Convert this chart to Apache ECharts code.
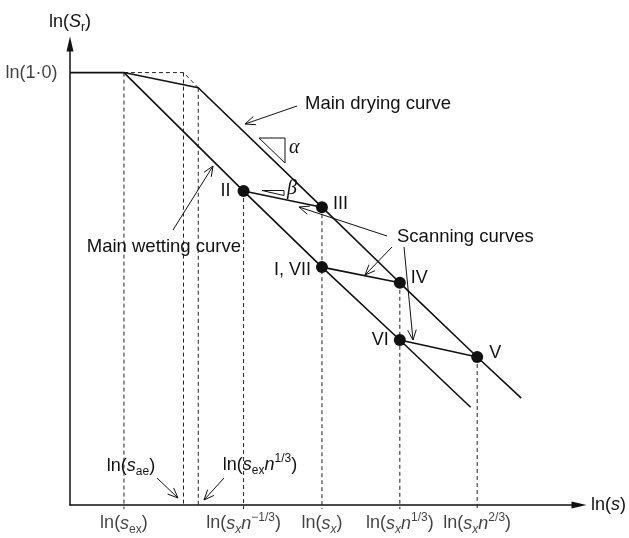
<!DOCTYPE html>
<html><head><meta charset="utf-8">
<script src="https://cdn.jsdelivr.net/npm/echarts@6/dist/echarts.min.js"></script>
<style>html,body{margin:0;padding:0;background:#fff}#c{width:629px;height:538px}</style>
</head><body><div id="c"></div>
<script>
// ---- schematic data (ln(s) on x, ln(Sr) on y, arbitrary units) ----
const plateau = [[0, 93.8], [10.6, 93.8]];
const mainDrying = [[10.6, 93.8], [25.2, 90.5], [49.5, 64.6], [64.8, 48.2], [80.0, 32.1], [88.65, 23.2]];
const mainWetting = [[10.6, 93.8], [34.1, 68.1], [49.5, 51.6], [64.8, 35.8], [78.7, 21.2]];
const guideTop = [[10.6, 93.8], [22.3, 93.8], [25.2, 90.5]];
const pointNames = ['II', 'III', 'I, VII', 'IV', 'VI', 'V'];
const pointX = [34.1, 49.5, 49.5, 64.8, 64.8, 80.0];
const pointY = [68.1, 64.6, 51.6, 48.2, 35.8, 32.1];
const scanningPairs = [['II', 'III'], ['I, VII', 'IV'], ['VI', 'V']];
// vertical guides: [x, top y]
const guideVerticals = [[10.6, 93.8], [22.3, 93.8], [25.2, 90.5], [34.1, 68.1], [49.5, 64.6], [64.8, 48.2], [80.0, 32.1]];
const guideBelowAxis = [true, false, false, true, true, true, true];
const xTickValues = [10.6, 34.1, 49.5, 64.8, 80.0];
const xTickLabels = [
  '{t|ln(}{i|s}{s|ex}{t|)}',
  '{t|ln(}{i|s}{si|x}{i|n}{p|−1/3}{t|)}',
  '{t|ln(}{i|s}{si|x}{t|)}',
  '{t|ln(}{i|s}{si|x}{i|n}{p|1/3}{t|)}',
  '{t|ln(}{i|s}{si|x}{i|n}{p|2/3}{t|)}'
];
const yTickValues = [93.8];
const yTickLabels = ['{t|ln(1·0)}'];
const xAxisName = '{t|ln(}{i|s}{t|)}';
const yAxisName = '{t|ln(}{i|S}{s|r}{t|)}';

// ---- styles ----
const C = '#111111';
const F = '"Liberation Sans", Arial, sans-serif';
const R = {
  t: {fontFamily: F, fontSize: 18, color: C, lineHeight: 24},
  i: {fontFamily: F, fontSize: 18, fontStyle: 'italic', color: C, lineHeight: 24},
  s: {fontFamily: F, fontSize: 12, color: C, verticalAlign: 'bottom', lineHeight: 12},
  si: {fontFamily: F, fontSize: 12, fontStyle: 'italic', color: C, verticalAlign: 'bottom', lineHeight: 12},
  p: {fontFamily: F, fontSize: 12, color: C, verticalAlign: 'top', lineHeight: 12}
};
const pointLabelPlacement = [
  {position: 'left', distance: 7, offset: [0, 0]},
  {position: 'right', distance: 5, offset: [0, -3]},
  {position: 'left', distance: 5, offset: [0, 3]},
  {position: 'right', distance: 5, offset: [0, -5]},
  {position: 'left', distance: 5, offset: [0, 0]},
  {position: 'right', distance: 6, offset: [0, -4]}
];

const chart = echarts.init(document.getElementById('c'), null, {renderer: 'canvas'});

const series = [];
const dashStyle = {color: '#222', width: 1, type: [4, 3]};
// dashed guides
series.push({type: 'line', data: guideTop, symbol: 'none', lineStyle: dashStyle, z: 1, silent: true, clip: false});
guideVerticals.forEach(function (g, i) {
  series.push({type: 'line', data: [[g[0], g[1]], [g[0], guideBelowAxis[i] ? -0.9 : 0]], symbol: 'none',
    lineStyle: dashStyle, z: 1, silent: true, clip: false});
});
// main curves
const solid = {color: C, width: 1.6};
series.push({type: 'line', data: plateau, symbol: 'none', lineStyle: solid, z: 2, clip: false});
series.push({type: 'line', data: mainDrying, symbol: 'none', lineStyle: solid, z: 2, clip: false});
series.push({type: 'line', data: mainWetting, symbol: 'none', lineStyle: solid, z: 2, clip: false});
// scanning curves
scanningPairs.forEach(function (p) {
  const a = pointNames.indexOf(p[0]), b = pointNames.indexOf(p[1]);
  series.push({type: 'line', data: [[pointX[a], pointY[a]], [pointX[b], pointY[b]]], symbol: 'none', lineStyle: solid, z: 2, clip: false});
});
// state points
series.push({
  type: 'scatter', z: 5, symbol: 'circle', symbolSize: 12, itemStyle: {color: C, opacity: 1},
  data: pointNames.map(function (n, i) {
    return {name: n, value: [pointX[i], pointY[i]], label: pointLabelPlacement[i]};
  }),
  label: {show: true, formatter: '{b}', fontFamily: F, fontSize: 18, color: C, opacity: 1}
});
// x tick labels
series.push({
  type: 'scatter', z: 5, symbol: 'circle', symbolSize: 1, itemStyle: {color: 'rgba(0,0,0,0)'}, silent: true, clip: false,
  data: xTickValues.map(function (v, i) { return {name: xTickLabels[i], value: [v, 0]}; }),
  label: {show: true, position: 'bottom', distance: 6, formatter: '{b}', rich: R}
});
// y tick labels
series.push({
  type: 'scatter', z: 5, symbol: 'circle', symbolSize: 1, itemStyle: {color: 'rgba(0,0,0,0)'}, silent: true, clip: false,
  data: yTickValues.map(function (v, i) { return {name: yTickLabels[i], value: [0, v]}; }),
  label: {show: true, position: 'left', distance: 12, formatter: '{b}', rich: R}
});

const axisCommon = {
  type: 'value', min: 0, max: 100,
  axisLine: {show: true, onZero: false, symbol: ['none', 'triangle'], symbolSize: [7, 15], lineStyle: {color: C, width: 1.5}},
  axisTick: {show: false}, axisLabel: {show: false}, splitLine: {show: false}
};

chart.setOption({
  animation: false,
  backgroundColor: '#fff',
  grid: {left: 70, right: 48, top: 44, bottom: 33},
  xAxis: Object.assign({}, axisCommon, {name: xAxisName, nameLocation: 'end', nameGap: 12,
    nameTextStyle: {rich: R, verticalAlign: 'middle', align: 'left'}}),
  yAxis: Object.assign({}, axisCommon, {name: yAxisName, nameLocation: 'end', nameGap: 10,
    nameTextStyle: {rich: R, align: 'center'}}),
  series: series
});

// ---- annotations (text + open-headed arrows) ----
function arrow(x1, y1, x2, y2) {
  const ang = Math.atan2(y2 - y1, x2 - x1), L = 11, a = 0.4;
  return [
    {type: 'line', shape: {x1: x1, y1: y1, x2: x2, y2: y2}, style: {stroke: C, lineWidth: 1}},
    {type: 'polyline', shape: {points: [[x2 - L * Math.cos(ang - a), y2 - L * Math.sin(ang - a)], [x2, y2],
      [x2 - L * Math.cos(ang + a), y2 - L * Math.sin(ang + a)]]}, style: {stroke: C, lineWidth: 1, fill: 'none'}}
  ];
}
function text(x, y, str, align, extra) {
  const st = Object.assign({text: str, fill: C, font: '18px ' + F, align: align, textAlign: align,
    verticalAlign: 'middle', textVerticalAlign: 'middle'}, extra || {});
  return {type: 'text', x: x, y: y, style: st};
}
let g = [];
g = g.concat(arrow(297, 106, 245, 124));
g = g.concat(arrow(173, 230, 213, 166));
g = g.concat(arrow(387, 236, 299, 207));
g = g.concat(arrow(392, 247, 365, 275));
g = g.concat(arrow(404, 247, 413, 340));
g = g.concat(arrow(157, 478, 178, 498));
g = g.concat(arrow(224, 478, 204, 500));
g.push({type: 'polygon', shape: {points: [[259, 138], [285, 138], [285, 163]]}, style: {stroke: C, lineWidth: 1, fill: 'none'}});
g.push({type: 'polygon', shape: {points: [[262, 190.5], [284, 190.5], [284, 195.5]]}, style: {stroke: C, lineWidth: 1, fill: 'none'}});
g.push(text(289, 148, 'α', 'left', {font: 'italic 20px "Liberation Serif", serif'}));
g.push(text(287, 189, 'β', 'left', {font: 'italic 20px "Liberation Serif", serif'}));
g.push(text(305, 104, 'Main drying curve', 'left', {font: '18.5px ' + F}));
g.push(text(241, 247, 'Main wetting curve', 'right', {font: '18.5px ' + F}));
g.push(text(397, 237, 'Scanning curves', 'left', {font: '18.5px ' + F}));
g.push(text(131, 466, '{t|ln(}{i|s}{s|ae}{t|)}', 'center', {rich: R}));
g.push(text(260, 465, '{t|ln(}{i|s}{s|ex}{i|n}{p|1/3}{t|)}', 'center', {rich: R}));
chart.setOption({graphic: g.map(function (e) { return Object.assign({silent: true, z: 10}, e); })});
</script></body></html>
